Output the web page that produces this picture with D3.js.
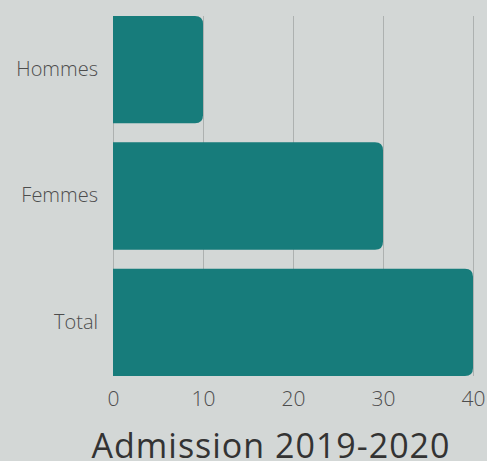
<html>
<head>
    <meta charset="utf-8">
    <script src="https://d3js.org/d3.v7.min.js"></script>
    <style>
        body { margin: 0; background: #d3d7d6; }
    </style>
</head>
<body>
    <div id="my_dataviz"></div>
</body>
<script>

    // data
    var categories = ["Hommes", "Femmes", "Total"];
    var values = [10, 30, 40];
    var tickValues = [0, 10, 20, 30, 40];
    var title = "Admission 2019-2020";

    var margin = { top: 16, right: 14, bottom: 85, left: 113 },
        width = 487 - margin.left - margin.right,
        height = 461 - margin.top - margin.bottom;

    var svg = d3.select("#my_dataviz")
        .append("svg")
        .attr("width", 487)
        .attr("height", 461)
        .style("font-family", "'Open Sans', sans-serif");

    var g = svg.append("g")
        .attr("transform", "translate(" + margin.left + "," + margin.top + ")");

    var x = d3.scaleLinear()
        .domain([0, 40])
        .range([0, 360]);

    var y = d3.scaleBand()
        .domain(categories)
        .range([0, height])
        .paddingInner(0.15)
        .paddingOuter(0);

    // vertical grid lines
    g.selectAll(".grid")
        .data(tickValues)
        .enter()
        .append("line")
        .attr("x1", function (d) { return x(d) + 0.5 })
        .attr("x2", function (d) { return x(d) + 0.5 })
        .attr("y1", 0)
        .attr("y2", height)
        .style("stroke", "#adb1b0")
        .style("stroke-width", 1);

    // bars, right corners rounded
    var r = 8;
    g.selectAll(".bar")
        .data(values)
        .enter()
        .append("path")
        .attr("d", function (d, i) {
            var y0 = y(categories[i]), h = y.bandwidth(), w = x(d);
            return "M0," + y0 + "H" + (w - r) + "Q" + w + "," + y0 + " " + w + "," + (y0 + r)
                + "V" + (y0 + h - r) + "Q" + w + "," + (y0 + h) + " " + (w - r) + "," + (y0 + h)
                + "H0Z";
        })
        .style("fill", "#177c7b");

    // x axis labels
    g.append("g")
        .attr("transform", "translate(0," + height + ")")
        .call(d3.axisBottom(x).tickValues(tickValues).tickSize(0).tickPadding(15))
        .call(function (a) { a.select(".domain").remove() })
        .selectAll("text")
        .style("font-family", "'Open Sans', sans-serif")
        .style("font-weight", 300)
        .style("font-size", "21px")
        .style("fill", "#4d4d4d");

    // y axis labels
    g.append("g")
        .call(d3.axisLeft(y).tickSize(0).tickPadding(15))
        .call(function (a) { a.select(".domain").remove() })
        .selectAll("text")
        .style("font-family", "'Open Sans', sans-serif")
        .style("font-weight", 300)
        .style("font-size", "20px")
        .style("fill", "#4d4d4d");

    // title
    svg.append("text")
        .attr("x", 271)
        .attr("y", 458)
        .attr("text-anchor", "middle")
        .style("font-size", "34px")
        .style("letter-spacing", "1px")
        .style("font-weight", 400)
        .style("fill", "#333")
        .text(title);

</script>
</html>
